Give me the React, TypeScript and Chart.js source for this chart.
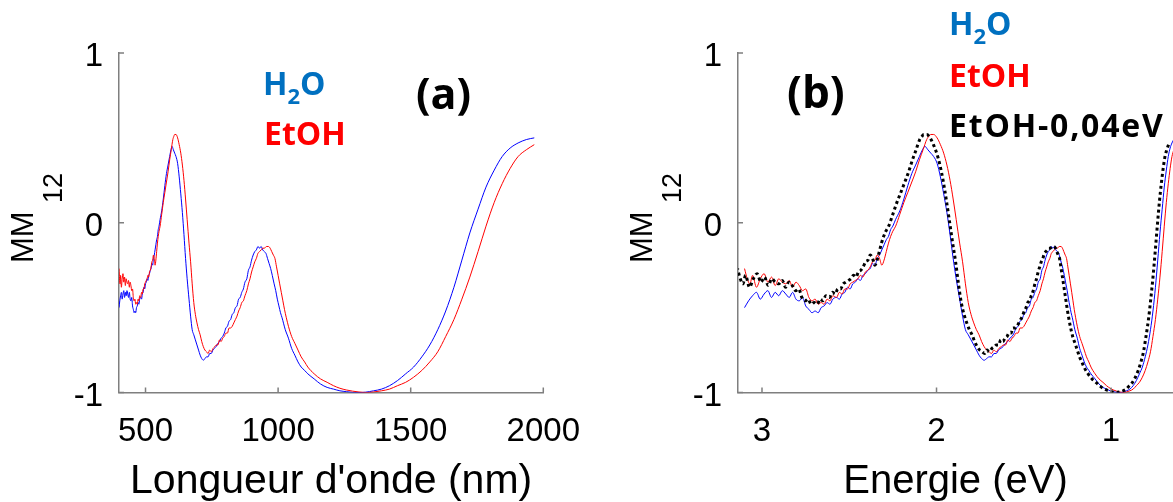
import React, { useEffect, useRef } from "react";
import { Chart, registerables } from "chart.js";

Chart.register(...registerables);

// ---------- data ----------
const h2oWavelength = [
  400, 403, 406, 409, 412, 415, 418, 421, 424, 427, 430, 433, 436, 439, 442, 445, 448, 451,
  454, 457, 460, 463, 466, 469, 472, 475, 478, 482, 485, 488, 491, 494, 497, 500, 503, 506,
  509, 512, 515, 518, 521, 524, 527, 530, 533, 536, 539, 542, 545, 548, 551, 555, 561, 567,
  573, 579, 585, 591, 596, 600, 605, 610, 615, 621, 627, 633, 639, 645, 651, 657, 664, 670,
  676, 682, 688, 694, 700, 706, 712, 718, 724, 730, 736, 742, 748, 754, 760, 766, 773, 779,
  785, 791, 797, 803, 809, 815, 821, 827, 833, 839, 845, 851, 857, 863, 869, 875, 882, 888,
  894, 900, 906, 912, 918, 924, 930, 936, 942, 948, 954, 960, 966, 972, 978, 985, 991, 997,
  1003, 1009, 1015, 1027, 1039, 1051, 1063, 1075, 1087, 1100, 1112, 1136, 1160, 1185, 1209,
  1233, 1257, 1281, 1305, 1330, 1360, 1390, 1420, 1450, 1481, 1511, 1542, 1572, 1602, 1632,
  1663, 1693, 1723, 1754, 1784, 1815, 1845, 1875, 1905, 1936, 1966,
];
const h2oMM12 = [
  -0.5, -0.46, -0.43, -0.41, -0.45, -0.42, -0.4, -0.44, -0.41, -0.43, -0.4, -0.42, -0.44,
  -0.41, -0.45, -0.46, -0.44, -0.49, -0.51, -0.53, -0.52, -0.53, -0.5, -0.49, -0.47, -0.48,
  -0.45, -0.44, -0.45, -0.42, -0.41, -0.38, -0.39, -0.36, -0.35, -0.33, -0.34, -0.31, -0.3,
  -0.28, -0.27, -0.24, -0.25, -0.21, -0.19, -0.16, -0.13, -0.1, -0.08, -0.04, -0.02, 0.02,
  0.07, 0.14, 0.22, 0.29, 0.34, 0.39, 0.43, 0.45, 0.43, 0.41, 0.39, 0.35, 0.27, 0.17, 0.06,
  -0.07, -0.21, -0.33, -0.45, -0.55, -0.63, -0.66, -0.69, -0.72, -0.75, -0.78, -0.8, -0.81,
  -0.8, -0.79, -0.79, -0.77, -0.77, -0.75, -0.74, -0.73, -0.71, -0.7, -0.68, -0.67, -0.65,
  -0.62, -0.61, -0.58, -0.57, -0.54, -0.53, -0.5, -0.49, -0.45, -0.44, -0.41, -0.39, -0.35,
  -0.33, -0.28, -0.26, -0.22, -0.19, -0.17, -0.16, -0.14, -0.15, -0.14, -0.16, -0.17, -0.18,
  -0.21, -0.24, -0.27, -0.31, -0.36, -0.4, -0.45, -0.49, -0.53, -0.56, -0.63, -0.68, -0.74,
  -0.78, -0.82, -0.85, -0.87, -0.89, -0.92, -0.95, -0.97, -0.98, -0.99, -0.995, -0.999, -1.0,
  -0.998, -0.99, -0.98, -0.96, -0.93, -0.89, -0.85, -0.79, -0.72, -0.63, -0.52, -0.38, -0.22,
  -0.06, 0.08, 0.21, 0.31, 0.39, 0.44, 0.47, 0.49, 0.5,
];
const etohWavelength = [
  400, 402, 404, 406, 409, 412, 415, 418, 421, 424, 427, 430, 433, 436, 439, 442, 445, 448,
  451, 454, 457, 460, 463, 466, 469, 472, 475, 478, 482, 485, 488, 491, 494, 497, 500, 503,
  506, 509, 512, 515, 518, 521, 524, 527, 530, 533, 536, 539, 542, 545, 548, 551, 555, 561,
  567, 573, 579, 585, 591, 597, 603, 607, 610, 615, 621, 627, 633, 639, 645, 651, 657, 664,
  670, 676, 682, 688, 694, 700, 706, 712, 718, 724, 730, 736, 742, 748, 755, 761, 767, 773,
  779, 785, 791, 797, 803, 809, 815, 821, 827, 833, 839, 845, 851, 857, 863, 869, 875, 882,
  888, 894, 900, 906, 912, 918, 924, 930, 936, 942, 948, 956, 964, 970, 976, 982, 988, 994,
  1000, 1006, 1012, 1018, 1024, 1031, 1039, 1051, 1063, 1075, 1087, 1100, 1112, 1136, 1160,
  1185, 1209, 1233, 1257, 1281, 1305, 1336, 1360, 1390, 1420, 1450, 1481, 1511, 1542, 1572,
  1602, 1632, 1663, 1693, 1723, 1754, 1784, 1815, 1845, 1875, 1905, 1936, 1966,
];
const etohMM12 = [
  -0.27, -0.33, -0.36, -0.31, -0.38, -0.33, -0.3, -0.35, -0.32, -0.37, -0.33, -0.35, -0.36,
  -0.34, -0.38, -0.35, -0.37, -0.4, -0.39, -0.44, -0.46, -0.45, -0.48, -0.47, -0.48, -0.45,
  -0.46, -0.43, -0.44, -0.41, -0.42, -0.39, -0.39, -0.36, -0.35, -0.34, -0.33, -0.31, -0.32,
  -0.29, -0.28, -0.26, -0.23, -0.22, -0.19, -0.21, -0.25, -0.22, -0.17, -0.12, -0.08, -0.05,
  -0.02, 0.05, 0.12, 0.18, 0.24, 0.3, 0.37, 0.43, 0.49, 0.51, 0.52, 0.52, 0.5, 0.46, 0.41,
  0.34, 0.25, 0.14, 0.02, -0.12, -0.23, -0.36, -0.47, -0.54, -0.59, -0.63, -0.66, -0.7,
  -0.73, -0.75, -0.76, -0.77, -0.75, -0.76, -0.74, -0.73, -0.72, -0.72, -0.69, -0.7, -0.68,
  -0.67, -0.65, -0.65, -0.62, -0.62, -0.61, -0.59, -0.57, -0.55, -0.52, -0.5, -0.47, -0.46,
  -0.43, -0.4, -0.36, -0.33, -0.29, -0.26, -0.23, -0.21, -0.18, -0.17, -0.16, -0.15, -0.15,
  -0.14, -0.14, -0.15, -0.17, -0.19, -0.21, -0.26, -0.31, -0.36, -0.41, -0.46, -0.51, -0.56,
  -0.61, -0.67, -0.71, -0.75, -0.79, -0.82, -0.85, -0.89, -0.92, -0.94, -0.96, -0.975,
  -0.985, -0.992, -0.997, -1.0, -0.997, -0.99, -0.98, -0.96, -0.94, -0.91, -0.87, -0.82,
  -0.76, -0.67, -0.57, -0.45, -0.32, -0.17, -0.02, 0.12, 0.23, 0.32, 0.39, 0.43, 0.46,
];
const etohShiftEV = 0.04; // "EtOH-0,04eV" series
const nmTicks = [500, 1000, 1500, 2000];
const evTicks = [1, 2, 3];
const mmTicks = [-1, 0, 1];

// ---------- styles ----------
const AXIS = "#7f7f7f";
const FONT = "'Liberation Sans', Arial, sans-serif";
const ANNOT = "'Open Sans', 'Noto Sans', sans-serif";
const BLUE_TXT = "#0070C0";

type Part = { t: string; size: number; dy?: number };

function drawParts(ctx: any, parts: Part[], x: number, y: number, color: string, spacing: number) {
  ctx.fillStyle = color;
  ctx.textBaseline = "alphabetic";
  ctx.textAlign = "left";
  ctx.letterSpacing = `${spacing}px`;
  let cx = x;
  for (const p of parts) {
    ctx.font = `bold ${p.size}px ${ANNOT}`;
    ctx.fillText(p.t, cx, y + (p.dy || 0));
    cx += ctx.measureText(p.t).width;
  }
  ctx.letterSpacing = "0px";
}

type Annot = { parts: Part[]; x: number; y: number; color: string; spacing?: number };

function decorPlugin(annots: Annot[], titleX: number, titleY: number) {
  return {
    id: "decor",
    afterDraw(chart: any) {
      const ctx: CanvasRenderingContext2D = chart.ctx;
      const xs = chart.scales.x;
      const ys = chart.scales.y;
      ctx.save();
      // inward tick marks
      ctx.strokeStyle = AXIS;
      ctx.lineWidth = 1.5;
      ctx.beginPath();
      for (const t of xs.ticks) {
        const px = xs.getPixelForValue(t.value);
        ctx.moveTo(px, ys.bottom);
        ctx.lineTo(px, ys.bottom - 5);
      }
      for (const t of ys.ticks) {
        const py = ys.getPixelForValue(t.value);
        ctx.moveTo(xs.left, py);
        ctx.lineTo(xs.left + 5, py);
      }
      ctx.stroke();
      // y axis title MM_12 (rotated)
      ctx.translate(titleX, titleY);
      ctx.rotate(-Math.PI / 2);
      ctx.fillStyle = "#000";
      ctx.textBaseline = "alphabetic";
      ctx.textAlign = "left";
      ctx.font = `31px ${FONT}`;
      ctx.fillText("MM", 0, 0);
      ctx.font = `27px ${FONT}`;
      ctx.fillText("12", 60, 29);
      ctx.restore();
      ctx.save();
      for (const a of annots) drawParts(ctx, a.parts, a.x, a.y, a.color, a.spacing || 0);
      ctx.restore();
    },
  };
}

function baseScales(opts: {
  xMin: number; xMax: number; xTicks: number[]; reverse: boolean; xTitle: string; yWidth: number; titleSize: number;
}) {
  return {
    x: {
      type: "linear",
      min: opts.xMin,
      max: opts.xMax,
      reverse: opts.reverse,
      afterBuildTicks: (s: any) => {
        s.ticks = opts.xTicks.map((v) => ({ value: v }));
      },
      afterFit: (s: any) => {
        s.height = 109.5;
      },
      grid: { display: false, drawTicks: false },
      border: { display: true, color: AXIS, width: 1.5 },
      ticks: {
        color: "#000",
        font: { family: FONT, size: 33 },
        padding: 20,
        maxRotation: 0,
        autoSkip: false,
        callback: (v: any) => String(v),
      },
      title: {
        display: true,
        text: opts.xTitle,
        color: "#000",
        font: { family: FONT, size: opts.titleSize, lineHeight: 1 },
        padding: { top: 0, bottom: 0 },
      },
    },
    y: {
      type: "linear",
      min: -1,
      max: 1,
      afterBuildTicks: (s: any) => {
        s.ticks = mmTicks.map((v) => ({ value: v }));
      },
      afterFit: (s: any) => {
        s.width = opts.yWidth;
      },
      grid: { display: false, drawTicks: false },
      border: { display: true, color: AXIS, width: 1.5 },
      ticks: {
        color: "#000",
        font: { family: FONT, size: 33 },
        padding: 16,
        labelOffset: 4,
        callback: (v: any) => String(v),
      },
    },
  };
}

const lineDs = (label: string, data: any[], color: string, extra: any = {}) => ({
  label,
  data,
  borderColor: color,
  backgroundColor: color,
  borderWidth: 1,
  pointRadius: 0,
  fill: false,
  cubicInterpolationMode: "monotone",
  ...extra,
});

export default function App() {
  const refA = useRef<HTMLCanvasElement>(null);
  const refB = useRef<HTMLCanvasElement>(null);

  useEffect(() => {
    document.body.style.overflow = "hidden";
    const h2oNm = h2oWavelength.map((w, i) => ({ x: w, y: h2oMM12[i] }));
    const etohNm = etohWavelength.map((w, i) => ({ x: w, y: etohMM12[i] }));
    const h2oEv = h2oWavelength.map((w, i) => ({ x: 1240 / w, y: h2oMM12[i] })).reverse();
    const etohEv = etohWavelength.map((w, i) => ({ x: 1240 / w, y: etohMM12[i] })).reverse();
    const etohShifted = etohWavelength
      .map((w, i) => ({ x: 1240 / w + etohShiftEV, y: etohMM12[i] }))
      .reverse();

    const chartA = new Chart(refA.current!, {
      type: "line",
      data: {
        datasets: [lineDs("EtOH", etohNm, "#ff0000"), lineDs("H2O", h2oNm, "#0000ff")],
      },
      options: {
        responsive: false,
        animation: false,
        devicePixelRatio: 1,
        layout: { padding: { top: 53, right: 42, bottom: 0, left: 0 } },
        plugins: { legend: { display: false }, tooltip: { enabled: false } },
        scales: baseScales({
          xMin: 400, xMax: 2000, xTicks: nmTicks, reverse: false,
          xTitle: "Longueur d'onde (nm)", yWidth: 119, titleSize: 41,
        }) as any,
      } as any,
      plugins: [
        decorPlugin(
          [
            { parts: [{ t: "H", size: 32 }, { t: "2", size: 22, dy: 9 }, { t: "O", size: 32 }], x: 263, y: 95, color: BLUE_TXT },
            { parts: [{ t: "EtOH", size: 32 }], x: 264, y: 145, color: "#ff0000" },
            { parts: [{ t: "(a)", size: 43 }], x: 416, y: 109, color: "#000" },
          ],
          33,
          263
        ),
      ],
    });

    const off = 600;
    const chartB = new Chart(refB.current!, {
      type: "line",
      data: {
        datasets: [
          lineDs("EtOH-0,04eV", etohShifted, "#000000", { borderWidth: 3, borderDash: [3, 3] }),
          lineDs("EtOH", etohEv, "#ff0000"),
          lineDs("H2O", h2oEv, "#0000ff"),
        ],
      },
      options: {
        responsive: false,
        animation: false,
        devicePixelRatio: 1,
        layout: { padding: { top: 53, right: 0, bottom: 0, left: 0 } },
        plugins: { legend: { display: false }, tooltip: { enabled: false } },
        scales: baseScales({
          xMin: 0.645, xMax: 3.1375, xTicks: evTicks, reverse: true,
          xTitle: "Energie (eV)", yWidth: 138, titleSize: 40,
        }) as any,
      } as any,
      plugins: [
        decorPlugin(
          [
            { parts: [{ t: "H", size: 32 }, { t: "2", size: 22, dy: 9 }, { t: "O", size: 32 }], x: 949 - off, y: 35, color: BLUE_TXT },
            { parts: [{ t: "EtOH", size: 32 }], x: 949 - off, y: 87, color: "#ff0000" },
            { parts: [{ t: "EtOH-0,04eV", size: 32 }], x: 949 - off, y: 137, color: "#000", spacing: 1.8 },
            { parts: [{ t: "(b)", size: 44 }], x: 787 - off, y: 108, color: "#000" },
          ],
          652 - off,
          263
        ),
      ],
    });

    return () => {
      chartA.destroy();
      chartB.destroy();
    };
  }, []);

  return (
    <div style={{ position: "absolute", left: 0, top: 0, width: 1173, height: 502, overflow: "hidden", background: "#fff" }}>
      <canvas ref={refA} width={600} height={502} style={{ position: "absolute", left: 0, top: 0 }} />
      <canvas ref={refB} width={573} height={502} style={{ position: "absolute", left: 600, top: 0 }} />
    </div>
  );
}
